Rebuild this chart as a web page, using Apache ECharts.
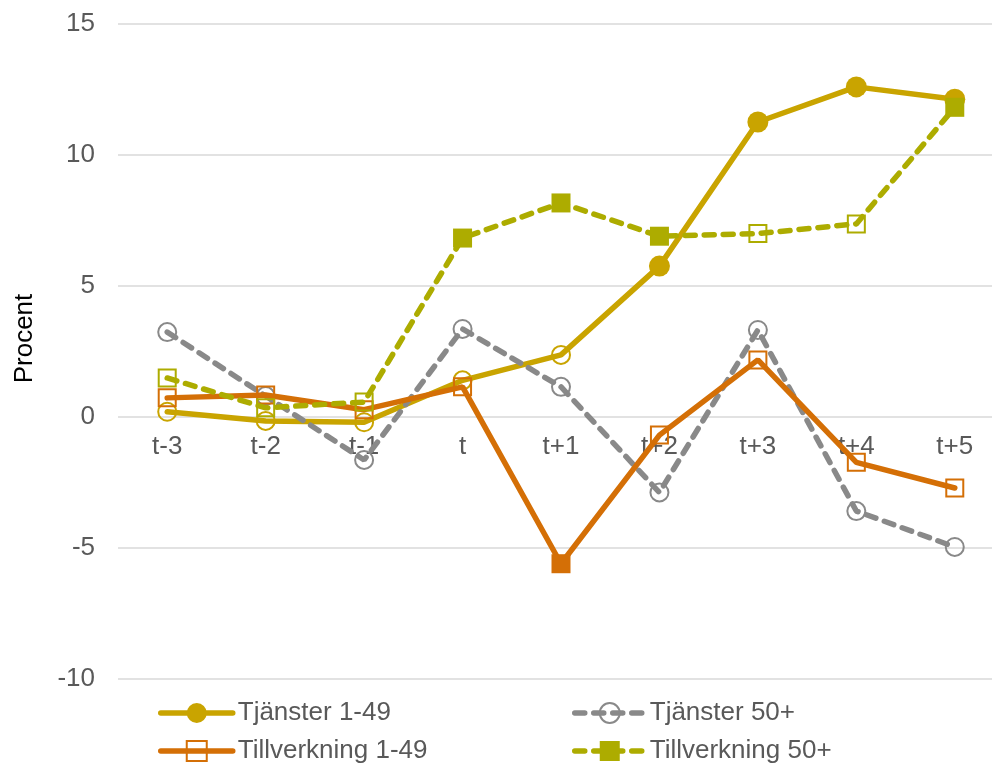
<!DOCTYPE html>
<html>
<head>
<meta charset="utf-8">
<script src="https://cdn.jsdelivr.net/npm/echarts@6/dist/echarts.min.js"></script>
<style>
html,body{margin:0;padding:0;background:#fff;overflow:hidden;width:992px;height:763px;}
#chart{width:1004px;height:763px;}
</style>
</head>
<body>
<div id="chart"></div>
<script>
var categories = ['t-3','t-2','t-1','t','t+1','t+2','t+3','t+4','t+5'];
var yTicks = { min: -10, max: 15, interval: 5 };

var seriesNames = ['Tjänster 1-49', 'Tjänster 50+', 'Tillverkning 1-49', 'Tillverkning 50+'];
var tjanster149 = [0.2, -0.15, -0.2, 1.4, 2.37, 5.76, 11.26, 12.6, 12.13];
var tjanster50 = [3.24, 0.8, -1.64, 3.36, 1.15, -2.88, 3.32, -3.59, -4.96];
var tillverkning149 = [0.73, 0.84, 0.28, 1.15, -5.6, -0.69, 2.18, -1.73, -2.71];
var tillverkning50 = [1.49, 0.35, 0.57, 6.83, 8.17, 6.9, 7.0, 7.37, 11.82];

// filled marker = 1, hollow marker = 0
var tjanster149Filled = [0,0,0,0,0,1,1,1,1];
var tjanster50Filled = [0,0,0,0,0,0,0,0,0];
var tillverkning149Filled = [0,0,0,0,1,0,0,0,0];
var tillverkning50Filled = [0,0,0,1,1,1,0,0,1];

var FONT = 'Liberation Sans, Arial, sans-serif';
var colors = ['#C9A400', '#898989', '#D46F06', '#ADAC00'];
var symbols = ['circle', 'circle', 'rect', 'rect'];
var dashed = [false, true, false, true];
var seriesLevelFilled = [true, false, false, true];

function buildData(values, filled, color, symbol) {
  return values.map(function (v, i) {
    var big = symbol === 'circle' ? 21 : 19;
    var small = symbol === 'circle' ? 18 : 17;
    if (filled[i]) {
      return { value: v, symbolSize: big, itemStyle: { color: color, borderWidth: 0 } };
    }
    return { value: v, symbolSize: small, itemStyle: { color: 'rgba(255,255,255,0)', borderColor: color, borderWidth: 2 } };
  });
}

var allValues = [tjanster149, tjanster50, tillverkning149, tillverkning50];
var allFilled = [tjanster149Filled, tjanster50Filled, tillverkning149Filled, tillverkning50Filled];

var series = seriesNames.map(function (name, k) {
  var c = colors[k];
  return {
    name: name,
    type: 'line',
    data: buildData(allValues[k], allFilled[k], c, symbols[k]),
    symbol: symbols[k],
    symbolSize: 20,
    showAllSymbol: true,
    color: c,
    lineStyle: {
      color: c,
      width: 5.5,
      type: dashed[k] ? [10, 9] : 'solid',
      cap: 'round'
    },
    itemStyle: seriesLevelFilled[k]
      ? { color: c, borderWidth: 0 }
      : { color: 'rgba(255,255,255,0)', borderColor: c, borderWidth: 2 },
    emphasis: { disabled: true },
    animation: false,
    z: 2 + k
  };
});

var legendText = { fontSize: 26, color: '#595959', fontFamily: FONT };

var option = {
  animation: false,
  backgroundColor: '#fff',
  grid: { left: 118, top: 24, width: 886, height: 655, containLabel: false },
  legend: [
    {
      data: [seriesNames[0], seriesNames[2]],
      orient: 'vertical', left: 153, top: 695, height: 120,
      itemWidth: 72, itemHeight: 25, itemGap: 12,
      lineStyle: { width: 5.5 },
      textStyle: legendText, selectedMode: false
    },
    {
      data: [seriesNames[1], seriesNames[3]],
      orient: 'vertical', left: 567, top: 695, height: 120,
      itemWidth: 70, itemHeight: 25, itemGap: 12,
      lineStyle: { width: 5.5 },
      textStyle: legendText, selectedMode: false
    }
  ],
  xAxis: {
    type: 'category',
    data: categories,
    boundaryGap: true,
    offset: -262,
    axisLine: { show: false, onZero: false },
    axisTick: { show: false },
    axisLabel: { fontSize: 26, color: '#595959', fontFamily: FONT, margin: 17, interval: 0 },
    splitLine: { show: false }
  },
  yAxis: {
    type: 'value',
    min: yTicks.min, max: yTicks.max, interval: yTicks.interval,
    name: 'Procent',
    nameLocation: 'middle',
    nameGap: 80,
    nameTextStyle: { fontSize: 26, color: '#000', fontFamily: FONT, padding: [0, 0, 0, 26] },
    axisLine: { show: false },
    axisTick: { show: false },
    axisLabel: { fontSize: 26, color: '#595959', fontFamily: FONT, margin: 23 },
    splitLine: { show: true, lineStyle: { color: '#d9d9d9', width: 1.5 } }
  },
  series: series
};

var chart = echarts.init(document.getElementById('chart'), null, { renderer: 'canvas' });
chart.setOption(option);
</script>
</body>
</html>
